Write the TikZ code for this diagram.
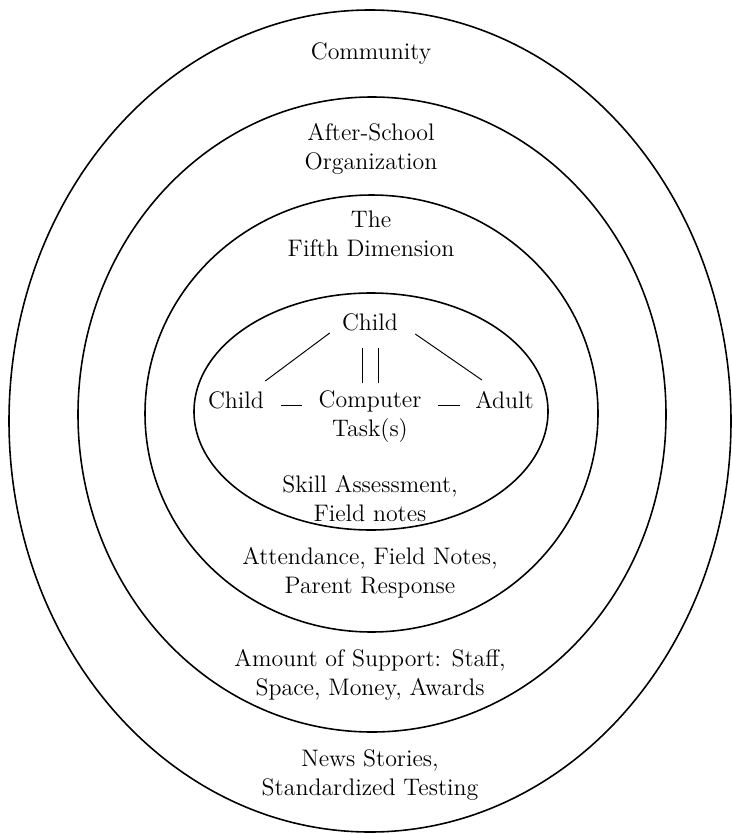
\documentclass[tikz,border=0pt]{standalone}
\usepackage{tikz}

\begin{document}
\begin{tikzpicture}[scale=0.2]
\tikzstyle{every node}+=[inner sep=0pt, align=center, font=\fontsize{13.6}{16.5}\selectfont]
\tikzstyle{ring}=[black, line width=0.9pt]
\tikzstyle{tie}=[black, line width=0.55pt]
\useasboundingbox (0,0) rectangle (73.1,-83.4);
\draw [ring] (37.0,-42.1) ellipse (36.1 and 41.1);
\draw [ring] (37.2,-41.45) ellipse (29.4 and 31.75);
\draw [ring] (37.15,-41.35) ellipse (22.65 and 21.85);
\draw [ring] (37.1,-41.15) ellipse (17.7 and 11.85);
\node (community) at (37.1,-5.4) {Community};
\node (afterschool) at (37.1,-14.9) {After-School\\Organization};
\node (fifthdim) at (37.1,-23.4) {The\\Fifth Dimension};
\node (childtop) at (37.0,-32.2) {Child};
\node (computer) at (37.0,-41.7) {Computer\\Task(s)};
\node (childleft) at (23.6,-40.0) {Child};
\node (adult) at (50.45,-40.0) {Adult};
\node (skills) at (37.0,-49.9) {Skill Assessment,\\Field notes};
\node (attend) at (37.0,-57.3) {Attendance, Field Notes,\\Parent Response};
\node (support) at (37.0,-67.5) {Amount of Support: Staff,\\Space, Money, Awards};
\node (news) at (37.0,-77.5) {News Stories,\\Standardized Testing};
\draw [tie] ([shift={(-1.2,-0.2)}]childtop.south west) -- ([shift={(0.1,1.0)}]childleft.north east);
\draw [tie] ([shift={(1.7,-0.3)}]childtop.south east) -- ([shift={(0.7,1.1)}]adult.north west);
\draw [tie] ([shift={(-0.8,-1.7)}]childtop.south) -- ([shift={(-0.8,0.75)}]computer.north);
\draw [tie] ([shift={(0.8,-1.7)}]childtop.south) -- ([shift={(0.8,0.75)}]computer.north);
\draw [tie, shorten <=9.7pt, shorten >=9.5pt, transform canvas={yshift=1.7pt}] (childleft.base east) -- (childleft.base east -| computer.west);
\draw [tie, shorten <=9.5pt, shorten >=8.5pt, transform canvas={yshift=1.7pt}] (adult.base west -| computer.east) -- (adult.base west);
\end{tikzpicture}
\end{document}
